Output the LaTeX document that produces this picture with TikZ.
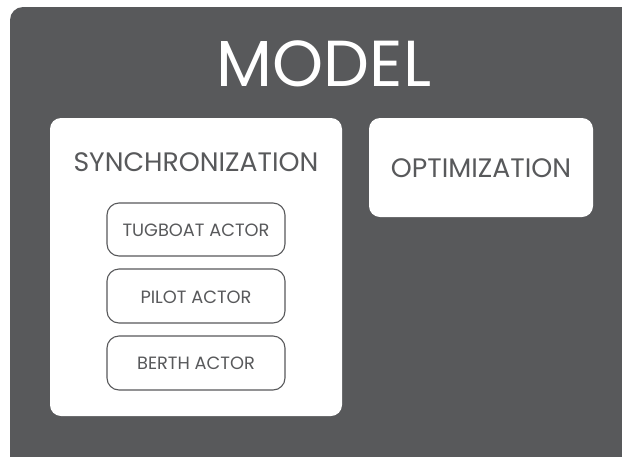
\documentclass[tikz,border=0pt]{standalone}
\usepackage{fontspec}
\setmainfont{Poppins}
\definecolor{dg}{HTML}{58595B}
\begin{document}
\begin{tikzpicture}[x=1pt,y=-1pt,
  panel/.style={fill=white,rounded corners=11pt},
  actor/.style={draw=dg,line width=1.1pt,fill=white,rounded corners=12pt},
  lbl/.style={text=dg,inner sep=0pt,anchor=center}]
\useasboundingbox (0,0) rectangle (622,456);
\clip (0,0) rectangle (622,456);
\fill[dg,rounded corners=13pt] (10,7) rectangle (660,490);
\node[text=white,inner sep=0pt,font=\fontsize{65}{65}\selectfont] (model) at (324,64) {MODEL};
\fill[panel] (50,118) rectangle (342,416);
\fill[panel] (369,118) rectangle (593,217);
\node[lbl,font=\fontsize{26.7}{27}\selectfont] (synct) at (196,162) {SYNCHRONIZATION};
\node[lbl,font=\fontsize{26.7}{27}\selectfont] (optt) at (481,168) {OPTIMIZATION};
\draw[actor] (107,203) rectangle (285,256);
\draw[actor] (107,269) rectangle (285,323);
\draw[actor] (107,336) rectangle (285,390);
\node[lbl,font=\fontsize{17.8}{18}\selectfont] (tug) at (196,230) {TUGBOAT ACTOR};
\node[lbl,font=\fontsize{17.8}{18}\selectfont] (pilot) at (196,297) {PILOT ACTOR};
\node[lbl,font=\fontsize{17.8}{18}\selectfont] (berth) at (196,363) {BERTH ACTOR};
\end{tikzpicture}
\end{document}
